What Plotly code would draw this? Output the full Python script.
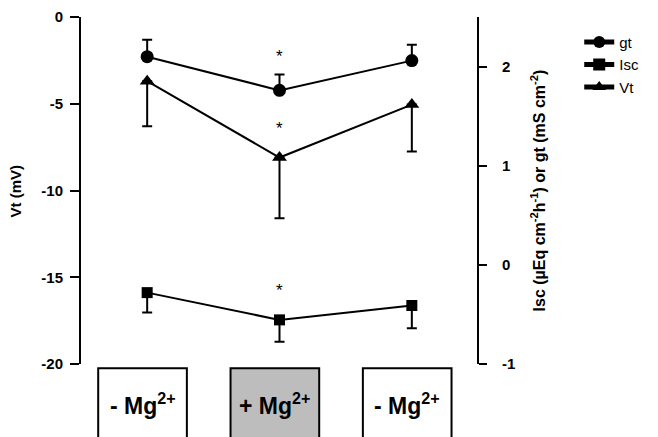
import plotly.graph_objects as go

conditions = ["- Mg<sup>2+</sup>", "+ Mg<sup>2+</sup>", "- Mg<sup>2+</sup>"]
box_fill = ["white", "#bdbdbd", "white"]
x = [0, 1, 2]

gt = [2.10, 1.76, 2.06]
gt_err = [0.17, 0.16, 0.16]
isc = [-0.28, -0.555, -0.41]
isc_err = [0.20, 0.22, 0.23]
vt = [-3.7, -8.1, -5.05]
vt_err = [2.6, 3.5, 2.7]

sig_vt = [None, -6.4, None]
sig_gt = [None, 2.10, None]
sig_isc = [None, -0.26, None]

left_ticks = [0, -5, -10, -15, -20]
right_ticks = [-1, 0, 1, 2]

fig = go.Figure()
zeros = [0, 0, 0]
fig.add_trace(go.Scatter(x=x, y=gt, yaxis="y2", name="gt", mode="lines+markers",
    line=dict(color="black", width=2), marker=dict(symbol="circle", size=13, color="black"),
    error_y=dict(type="data", symmetric=False, array=gt_err, arrayminus=zeros, color="black", thickness=2, width=5)))
fig.add_trace(go.Scatter(x=x, y=isc, yaxis="y2", name="Isc", mode="lines+markers",
    line=dict(color="black", width=2), marker=dict(symbol="square", size=11, color="black"),
    error_y=dict(type="data", symmetric=False, array=zeros, arrayminus=isc_err, color="black", thickness=2, width=5)))
fig.add_trace(go.Scatter(x=x, y=vt, yaxis="y", name="Vt", mode="lines+markers",
    line=dict(color="black", width=2), marker=dict(symbol="triangle-up", size=13, color="black"),
    error_y=dict(type="data", symmetric=False, array=zeros, arrayminus=vt_err, color="black", thickness=2, width=5)))

ann = []
star_font = dict(size=17, color="black", family="Arial")
for i in x:
    if sig_vt[i] is not None:
        ann.append(dict(x=i, y=sig_vt[i], yref="y", xref="x", text="*", showarrow=False, font=star_font))
    if sig_gt[i] is not None:
        ann.append(dict(x=i, y=sig_gt[i], yref="y2", xref="x", text="*", showarrow=False, font=star_font))
    if sig_isc[i] is not None:
        ann.append(dict(x=i, y=sig_isc[i], yref="y2", xref="x", text="*", showarrow=False, font=star_font))

shapes = []
for i, (lab, fc) in enumerate(zip(conditions, box_fill)):
    shapes.append(dict(type="rect", xref="x", yref="paper", x0=i - 0.37, x1=i + 0.30,
                       y0=-0.012, y1=-0.215, fillcolor=fc, line=dict(color="black", width=2), layer="above"))
    ann.append(dict(x=i - 0.035, y=-0.115, xref="x", yref="paper", text="<b>" + lab + "</b>", showarrow=False,
                    font=dict(size=23, color="black", family="Arial"), xanchor="center", yanchor="middle"))

ann.append(dict(x=1.151, y=0.50, xref="paper", yref="paper", textangle=-90, showarrow=False,
                xanchor="center", yanchor="middle",
                text="<b>Isc (µEq cm<sup>-2</sup>h<sup>-1</sup>) or gt (mS cm<sup>-2</sup>)</b>",
                font=dict(size=16, color="black", family="Arial")))
ann.append(dict(x=-0.164, y=0.5, xref="paper", yref="paper", textangle=-90, showarrow=False,
                xanchor="center", yanchor="middle",
                text="<b>Vt (mV)</b>", font=dict(size=15, color="black", family="Arial")))

fig.update_layout(
    width=658, height=437, margin=dict(l=81, r=180, t=17, b=73, autoexpand=False),
    plot_bgcolor="white", paper_bgcolor="white",
    font=dict(family="Arial", color="black", size=13),
    xaxis=dict(range=[-0.5, 2.5], showline=False, showticklabels=False, ticks="", showgrid=False, zeroline=False),
    yaxis=dict(range=[-20, 0], tickvals=left_ticks, ticktext=["<b>%d</b>" % v for v in left_ticks],
               showline=True, linecolor="black", linewidth=2, ticks="outside", ticklen=9, tickwidth=2,
               tickcolor="black", showgrid=False, zeroline=False, tickfont=dict(size=15),
               ticklabelstandoff=4),
    yaxis2=dict(range=[-1, 2.5], overlaying="y", side="right", anchor="free", position=1.0,
                tickvals=right_ticks, ticktext=["<b>%d</b>" % v for v in right_ticks],
                showline=True, linecolor="black", linewidth=2, ticks="outside", ticklen=8, tickwidth=2,
                tickcolor="black", showgrid=False, zeroline=False, tickfont=dict(size=15),
                ticklabelstandoff=12),
    legend=dict(x=1.255, y=0.975, xanchor="left", yanchor="top", bgcolor="rgba(0,0,0,0)",
                font=dict(size=15, family="Arial"), tracegroupgap=0, itemsizing="constant"),
    showlegend=True,
    shapes=shapes, annotations=ann,
)

fig.write_html("out.html")
